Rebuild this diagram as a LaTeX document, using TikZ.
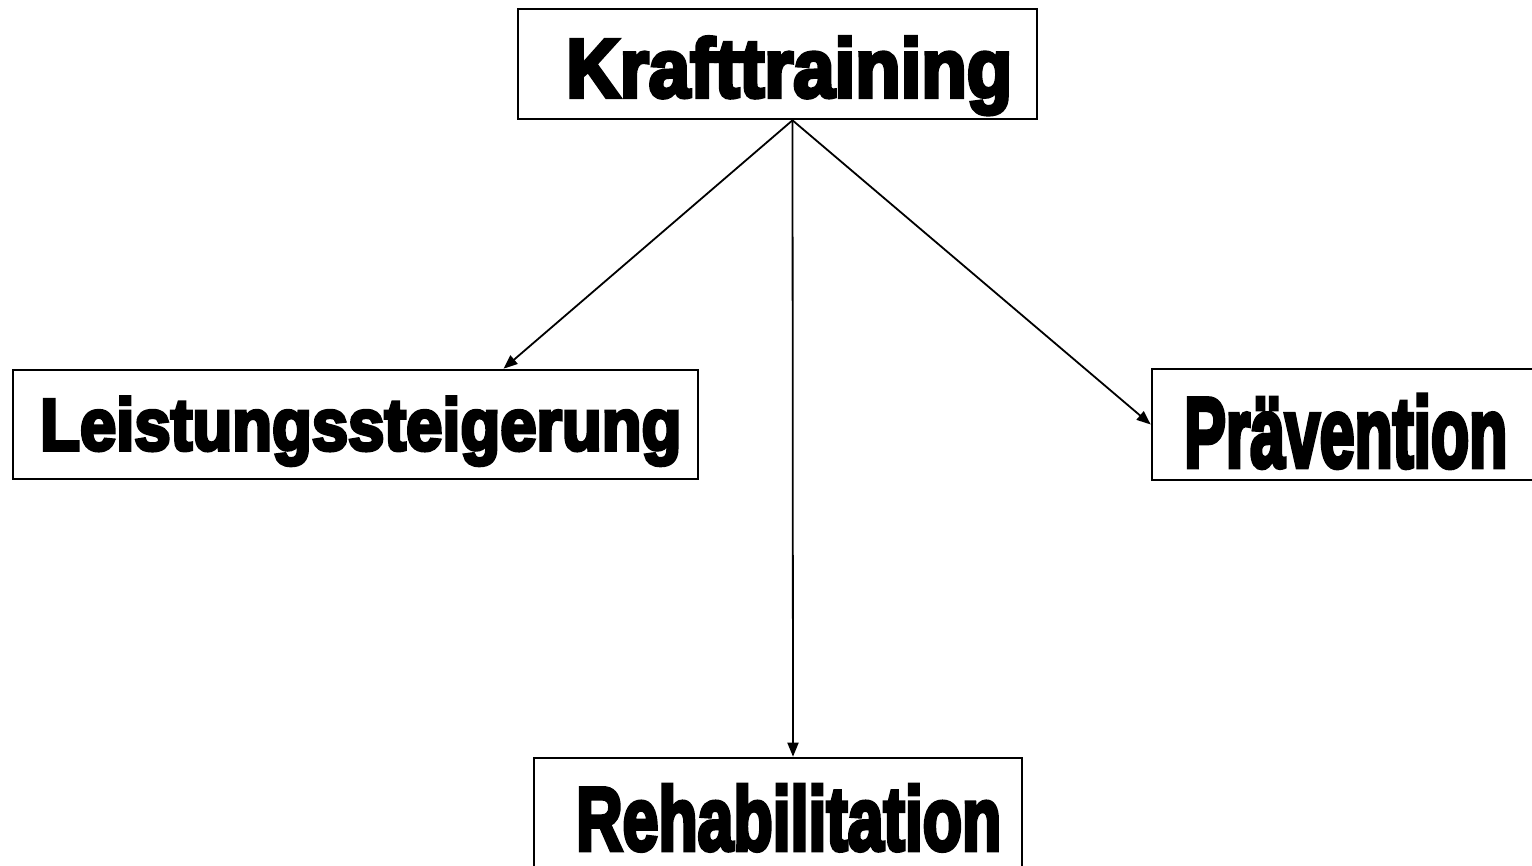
\documentclass[tikz,border=0pt]{standalone}
\usepackage{fontspec}
\newfontfamily\heavy[FakeBold=5]{Liberation Sans}
\usetikzlibrary{arrows.meta}

\tikzset{
  kasten/.style={draw, line width=2.6pt, inner sep=0pt},
  schrift/.style={anchor=base west, inner sep=0pt, font=\heavy\bfseries},
  pfeil/.style={-{Triangle[length=14pt,width=11pt]}, line width=1.8pt}
}

\begin{document}
\begin{tikzpicture}[x=1pt,y=-1pt]

\useasboundingbox (0,0) rectangle (1532,866);

%% boxes
\node[kasten, minimum width=519pt, minimum height=110pt] (kraft) at (777.5,64) {};
\node[kasten, minimum width=685pt, minimum height=109pt] (leist) at (355.5,424.5) {};
\node[kasten, minimum width=393pt, minimum height=111pt] (praev) at (1348.5,424.5) {};
\node[kasten, minimum width=488pt, minimum height=117pt] (reha) at (778,816.5) {};

%% texts
\node[schrift] (kraft-txt) at (566,97) {\resizebox{446pt}{60pt}{Krafttraining}};
\node[schrift] (leist-txt) at (40,450) {\resizebox{641pt}{53pt}{Leistungssteigerung}};
\node[schrift] (praev-txt) at (1184,467) {\resizebox{323pt}{72pt}{Prävention}};
\node[schrift] (reha-txt) at (576,850) {\resizebox{425pt}{65pt}{Rehabilitation}};

%% arrows
\draw[pfeil] ([xshift=15pt]kraft.south) -- ([xshift=148pt]leist.north);
\draw[pfeil] ([xshift=15pt]kraft.south) -- ([xshift=15pt]reha.north);
\draw[pfeil] ([xshift=15pt]kraft.south) -- (praev.west);

\end{tikzpicture}
\end{document}
